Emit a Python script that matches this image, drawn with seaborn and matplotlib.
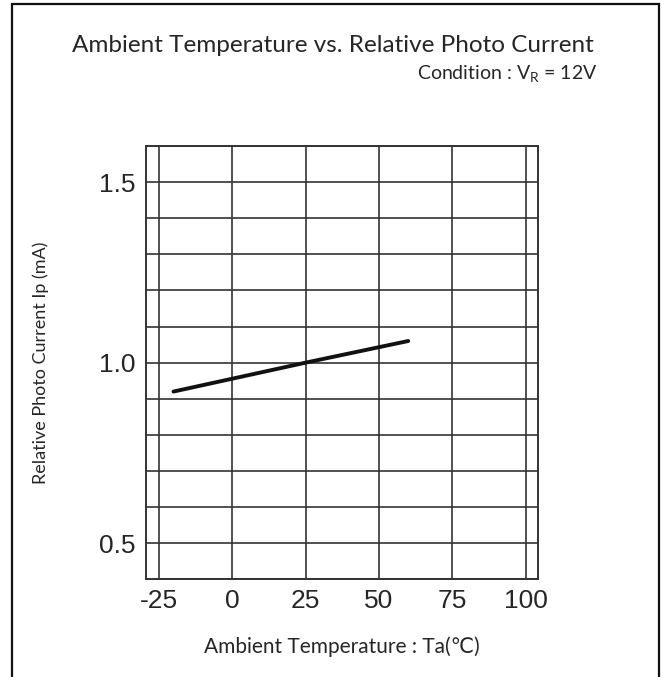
import matplotlib
matplotlib.use("Agg")
import matplotlib.pyplot as plt
import seaborn as sns
import pandas as pd
from matplotlib.patches import Rectangle
from matplotlib.ticker import MultipleLocator

# data
temperature = [-20, 25, 60]
photo_current = [0.92, 1.00, 1.06]
x_ticks = [-25, 0, 25, 50, 75, 100]
y_ticks = [0.5, 1.0, 1.5]

df = pd.DataFrame({"Ta": temperature, "Ip": photo_current})

sns.set_theme(style="white")
plt.rcParams['font.family'] = ['Lato', 'DejaVu Sans']
plt.rcParams['mathtext.default'] = 'regular'

fig = plt.figure(figsize=(6.62, 6.77), dpi=100)
ax = fig.add_axes([0.220, 0.1443, 0.593, 0.640])

sns.lineplot(data=df, x="Ta", y="Ip", ax=ax, color="#111111", linewidth=2.8)

ax.set_xlim(-29.5, 104.3)
ax.set_ylim(0.4, 1.6)
ax.set_xticks(x_ticks)
ax.set_xticklabels([str(t) for t in x_ticks], family="Liberation Sans", fontsize=19)
ax.set_yticks(y_ticks)
ax.set_yticklabels([f"{v:.1f}" for v in y_ticks], family="Liberation Sans", fontsize=19)
ax.yaxis.set_minor_locator(MultipleLocator(0.1))
ax.tick_params(which="both", length=0, pad=7)
ax.grid(True, which="both", color="#333333", linewidth=1.2)
for s in ax.spines.values():
    s.set_color("#333333")
    s.set_linewidth(1.4)

ax.set_xlabel("Ambient Temperature : Ta(℃)", fontsize=15, labelpad=17)
ax.set_ylabel("Relative Photo Current Ip (mA)", fontsize=13, labelpad=36)

fig.text(0.503, 0.933, "Ambient Temperature vs. Relative Photo Current",
         ha="center", va="center", fontsize=17.5)
fig.text(0.902, 0.892, "Condition : V$_R$ = 12V", ha="right", va="center", fontsize=14)

# outer frame
fig.patches.append(Rectangle((12 / 662, -0.05), 647 / 662, 1.05 - 4 / 677,
                             transform=fig.transFigure, fill=False,
                             edgecolor="#111111", linewidth=1.6))

fig.savefig("out.png", dpi=100)
